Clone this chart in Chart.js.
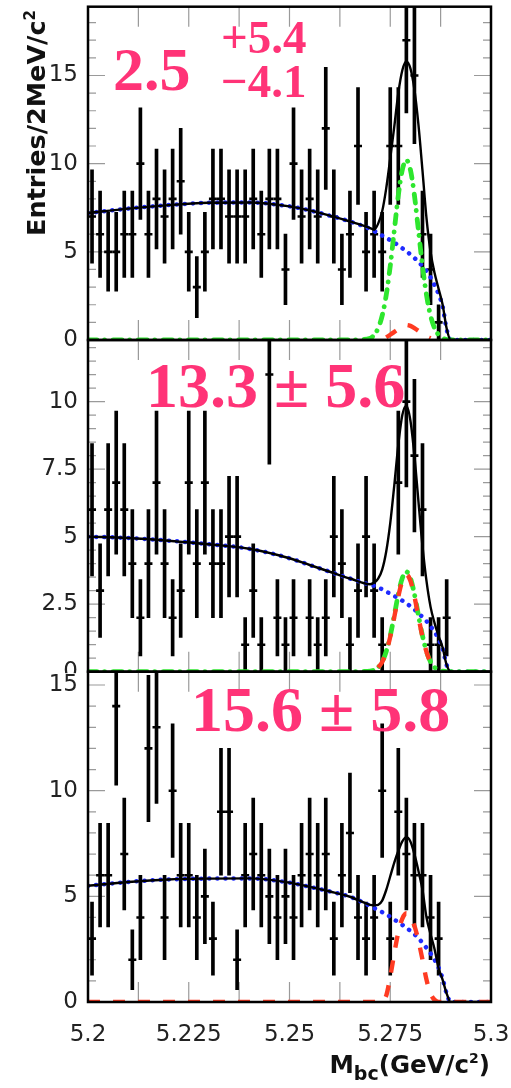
<!DOCTYPE html>
<html>
<head>
<meta charset="utf-8">
<script src="https://cdn.jsdelivr.net/npm/chart.js@4.4.1/dist/chart.umd.min.js"></script>
<style>
  html, body { margin: 0; padding: 0; background: #fff; }
  body { width: 511px; height: 1088px; position: relative; overflow: hidden; }
  canvas { position: absolute; left: 0; top: 0; }
  .yield { position: absolute; z-index: 5; font-family: "Liberation Serif", "Times New Roman", serif;
           font-weight: bold; color: #ff3377; line-height: 1; white-space: pre; }
  .axt { position: absolute; z-index: 5; font-family: "DejaVu Sans", sans-serif; font-weight: bold;
         color: #111; line-height: 1; white-space: nowrap; }
</style>
</head>
<body>
<canvas id="p1" width="511" height="1088"></canvas>
<canvas id="p2" width="511" height="1088"></canvas>
<canvas id="p3" width="511" height="1088"></canvas>

<div class="yield" id="y1" style="left:113px;top:38px;font-size:62px"></div>
<div class="yield" id="y1u" style="left:221px;top:14px;font-size:47px"></div>
<div class="yield" id="y1d" style="left:221px;top:58px;font-size:47px"></div>
<div class="yield" id="y2" style="left:146px;top:354px;font-size:64px"></div>
<div class="yield" id="y3" style="left:191px;top:678px;font-size:64px"></div>

<div class="axt" style="left:24px;top:310px;width:300px;text-align:right;font-size:25.5px;transform:rotate(-90deg);transform-origin:0 0;">Entries/2MeV/c<span style="font-size:15px;position:relative;top:-10px">2</span></div>
<div class="axt" style="right:21px;top:1053px;font-size:24.5px">M<span style="font-size:19px;position:relative;top:7px">bc</span>(GeV/c<span style="font-size:14px;position:relative;top:-10px">2</span>)</div>

<script>
// Beam-constrained mass bins (2 MeV wide), centres in GeV/c^2
const binCenters = [5.201, 5.203, 5.205, 5.207, 5.209, 5.211, 5.213, 5.215, 5.217, 5.219,
                    5.221, 5.223, 5.225, 5.227, 5.229, 5.231, 5.233, 5.235, 5.237, 5.239,
                    5.241, 5.243, 5.245, 5.247, 5.249, 5.251, 5.253, 5.255, 5.257, 5.259,
                    5.261, 5.263, 5.265, 5.267, 5.269, 5.271, 5.273, 5.275, 5.277, 5.279,
                    5.281, 5.283, 5.285, 5.287, 5.289, 5.291, 5.293, 5.295, 5.297, 5.299];

// Entries per bin
const countsTop = [7, 6, 5, 5, 6, 6, 10, 6, 8, 7,   8, 9, 5, 3, 5, 8, 8, 7, 7, 7,
                   8, 6, 8, 8, 4, 10, 7, 8, 7, 12,  7, 4, 6, 11, 5, 6, 5, 11, 11, 17,
                   15, 6, 4, 1, 0,  0, 0, 0, 0, 0];
const countsMid = [6, 3, 6, 7, 6, 4, 2, 4, 7, 4,    2, 3, 7, 4, 7, 4, 4, 5, 5, 1,
                   3, 1, 11, 2, 1, 2, 0, 2, 1, 2,   5, 4, 1, 3, 5, 3, 1, 0, 7, 10,
                   8, 6, 1, 1, 2,  0, 0, 0, 0, 0];
const countsBot = [3, 6, 6, 14, 7, 2, 4, 12, 13, 4, 10, 6, 6, 4, 5, 3, 9, 9, 2, 6,
                   7, 6, 5, 4, 5, 4, 6, 7, 6, 7,    3, 6, 8, 4, 3, 4, 10, 3, 9, 7,
                   6, 6, 4, 3, 0,  0, 0, 0, 0, 0];

// Mass points at which the fit components are sampled
const fitMass = [5.200, 5.210, 5.220, 5.230, 5.240, 5.250, 5.255, 5.260, 5.265, 5.270,
                 5.271, 5.272, 5.273, 5.274, 5.275, 5.276, 5.277, 5.278, 5.279, 5.280,
                 5.281, 5.282, 5.283, 5.284, 5.285, 5.286, 5.287, 5.288, 5.289, 5.290, 5.300];

// Top panel fit components
const bkgTop  = [7.2, 7.45, 7.65, 7.78, 7.8, 7.58, 7.35, 7.05, 6.72, 6.3,
                 6.18, 6.05, 5.92, 5.8, 5.66, 5.52, 5.37, 5.2, 5.03, 4.85,
                 4.65, 4.43, 4.18, 3.9, 3.55, 3.1, 2.6, 1.9, 0.6, 0, 0];
const sigTop  = [0, 0, 0, 0, 0, 0, 0, 0, 0, 0.1,
                 0.29, 0.67, 1.38, 2.54, 4.2, 6.2, 8.2, 9.65, 10.2, 9.65,
                 8.2, 6.2, 4.2, 2.54, 1.38, 0.67, 0.29, 0.1, 0.03, 0, 0];
const peakTop = [null, null, null, null, null, null, null, null, null, null,
                 null, null, null, 0.15, 0.3, 0.46, 0.62, 0.77, 0.85, 0.8,
                 0.68, 0.52, 0.35, 0.2, 0.1, null, null, null, null, null, null];
const totTop  = [7.2, 7.45, 7.65, 7.78, 7.8, 7.58, 7.35, 7.05, 6.72, 6.35,
                 6.25, 6.6, 7.3, 8.6, 10.3, 12.1, 14.0, 15.3, 15.8, 15.4,
                 14.2, 12.2, 9.6, 6.9, 5.0, 3.8, 2.9, 2.0, 0.65, 0, 0];

// Middle panel fit components
const bkgMid  = [5.0, 4.95, 4.85, 4.72, 4.55, 4.2, 3.95, 3.7, 3.45, 3.22,
                 3.18, 3.12, 3.05, 2.97, 2.88, 2.8, 2.72, 2.63, 2.53, 2.42,
                 2.3, 2.17, 2.02, 1.87, 1.68, 1.48, 1.2, 0.85, 0.25, 0, 0];
const sigMid  = [0, 0, 0, 0, 0, 0, 0, 0, 0, 0.02,
                 0.06, 0.16, 0.37, 0.75, 1.33, 2.08, 2.87, 3.47, 3.7, 3.47,
                 2.87, 2.08, 1.33, 0.75, 0.37, 0.16, 0.06, 0.02, 0, 0, 0];
const peakMid = [null, null, null, null, null, null, null, null, null, null,
                 null, 0.15, 0.36, 0.73, 1.29, 2.02, 2.78, 3.37, 3.6, 3.37,
                 2.78, 2.02, 1.29, 0.73, 0.36, 0.15, null, null, null, null, null];
const totMid  = [5.0, 4.95, 4.85, 4.72, 4.55, 4.2, 3.95, 3.7, 3.45, 3.24,
                 3.3, 3.45, 3.78, 4.45, 5.5, 6.9, 8.4, 9.5, 9.85, 9.3,
                 8.0, 6.3, 4.65, 3.35, 2.4, 1.8, 1.32, 0.89, 0.25, 0, 0];

// Bottom panel fit components
const bkgBot  = [5.5, 5.68, 5.8, 5.84, 5.85, 5.65, 5.45, 5.23, 4.98, 4.55,
                 4.45, 4.35, 4.25, 4.15, 4.03, 3.9, 3.78, 3.65, 3.52, 3.36,
                 3.2, 3.02, 2.8, 2.56, 2.3, 2.0, 1.62, 1.1, 0.4, 0, 0];
const peakBot = [0, 0, 0, 0, 0, 0, 0, 0, 0, 0,
                 0, 0, 0.05, 0.3, 1.2, 2.3, 3.3, 3.95, 4.2, 4.05,
                 3.6, 2.9, 2.0, 1.05, 0.4, 0.1, 0, 0, 0, 0, 0];
const totBot  = [5.5, 5.68, 5.8, 5.84, 5.85, 5.65, 5.45, 5.23, 4.98, 4.6,
                 4.58, 4.6, 4.8, 5.3, 5.95, 6.6, 7.15, 7.6, 7.8, 7.6,
                 7.0, 6.2, 5.3, 4.0, 3.2, 2.5, 1.6, 1.05, 0.4, 0, 0];

// Axis ranges and labelled ticks
const yMaxTop = 18.9, yMaxMid = 12.28, yMaxBot = 15.63;
const yTicksTop = [0, 5, 10, 15];
const yTicksMid = [0, 2.5, 5, 7.5, 10];
const yTicksBot = [0, 5, 10, 15];
const xTickValues = [5.2, 5.225, 5.25, 5.275, 5.3];
const xTickLabels = ['5.2', '5.225', '5.25', '5.275', '5.3'];
const xTickMarks = [5.2125, 5.225, 5.2375, 5.25, 5.2625, 5.275, 5.2875];

// Fitted yields
const yieldTop = '2.5', yieldTopUp = '+5.4', yieldTopDown = '\u22124.1';
const yieldMid = '13.3 \u00b1 5.6';
const yieldBot = '15.6 \u00b1 5.8';

document.getElementById('y1').textContent = yieldTop;
document.getElementById('y1u').textContent = yieldTopUp;
document.getElementById('y1d').textContent = yieldTopDown;
document.getElementById('y2').textContent = yieldMid;
document.getElementById('y3').textContent = yieldBot;

// Frame with inward ticks (drawn like a ROOT pad)
const framePlugin = {
  id: 'frame',
  beforeDraw(chart, args, o) {
    if (!o.coverLeft) return;
    const {ctx, chartArea: a} = chart;
    ctx.save();
    ctx.fillStyle = '#fff';
    ctx.fillRect(0, a.top + 1.5, a.left - 1.5, chart.height - a.top);
    ctx.restore();
  },
  beforeDatasetsDraw(chart, args, o) {
    const {ctx, chartArea: a} = chart;
    const xs = chart.scales.x, ys = chart.scales.y;
    ctx.save();
    ctx.beginPath();
    ctx.rect(a.left, a.top, a.right - a.left, a.bottom - a.top);
    ctx.clip();
    ctx.strokeStyle = '#9a9a9a';
    ctx.lineWidth = 1.2;
    ctx.beginPath();
    for (const v of xTickMarks) {
      const p = xs.getPixelForValue(v);
      ctx.moveTo(p, a.bottom); ctx.lineTo(p, a.bottom - 20);
      ctx.moveTo(p, a.top); ctx.lineTo(p, a.top + 20);
    }
    for (let k = 0; k * o.minor <= ys.max + 1e-9; k++) {
      const v = k * o.minor;
      const r = v / o.major;
      const len = Math.abs(r - Math.round(r)) < 1e-6 ? 17 : 8;
      const p = ys.getPixelForValue(v);
      ctx.moveTo(a.left, p); ctx.lineTo(a.left + len, p);
      ctx.moveTo(a.right, p); ctx.lineTo(a.right - len, p);
    }
    ctx.stroke();
    ctx.restore();
  },
  afterDatasetsDraw(chart) {
    const {ctx, chartArea: a} = chart;
    ctx.save();
    ctx.strokeStyle = '#000';
    ctx.lineWidth = 2.5;
    ctx.strokeRect(a.left, a.top, a.right - a.left, a.bottom - a.top);
    ctx.restore();
  }
};

const curve = (ys) => fitMass.map((m, i) => ({x: m, y: ys[i]}));

function buildPanel(p) {
  const errBars = [], markers = [];
  binCenters.forEach((m, i) => {
    const c = p.counts[i];
    if (c > 0) {
      const e = Math.sqrt(c);
      errBars.push({x: m, y: [c - e, c + e]});
      markers.push({x: m, y: c});
    }
  });
  const datasets = [
    {type: 'bar', data: errBars, backgroundColor: '#000', borderWidth: 0, barThickness: 3, order: 6},
    {type: 'line', data: markers, showLine: false, pointStyle: 'line', pointRadius: 4,
     pointBorderWidth: 2.6, pointBorderColor: '#000', pointBackgroundColor: '#000', order: 5},
    {type: 'line', data: curve(p.bkg), borderColor: '#1f2bff', borderWidth: 4.5, borderDash: [0.1, 8],
     borderCapStyle: 'round', pointRadius: 0, cubicInterpolationMode: 'monotone', order: 4}
  ];
  if (p.sig) datasets.push({type: 'line', data: curve(p.sig), borderColor: '#2ee62e', borderWidth: 4.8,
     borderDash: [9, 7.5, 0.1, 8.5], borderCapStyle: 'round', pointRadius: 0,
     cubicInterpolationMode: 'monotone', order: 3});
  datasets.push({type: 'line', data: curve(p.peak), borderColor: '#ff3b22', borderWidth: 4.4,
     borderDash: [12, 13], pointRadius: 0, spanGaps: false, cubicInterpolationMode: 'monotone', order: 2});
  datasets.push({type: 'line', data: curve(p.tot), borderColor: '#000', borderWidth: 2.4,
     pointRadius: 0, cubicInterpolationMode: 'monotone', order: 1});

  new Chart(document.getElementById(p.id), {
    type: 'line',
    data: {datasets},
    options: {
      responsive: false,
      animation: false,
      events: [],
      layout: {padding: {top: p.top, bottom: 1088 - p.bottom - (p.showX ? 86 : 0), left: 0, right: 20}},
      plugins: {legend: {display: false}, tooltip: {enabled: false},
                frame: {minor: p.minor, major: p.major, coverLeft: p.coverLeft}},
      scales: {
        x: {
          type: 'linear', min: 5.2, max: 5.3, offset: false, display: p.showX,
          grid: {display: false, drawTicks: false}, border: {display: false},
          afterBuildTicks: (s) => { s.ticks = xTickValues.map(v => ({value: v})); },
          afterFit: (s) => { s.height = p.showX ? 86 : 0; s.paddingLeft = 0; s.paddingRight = 0; },
          ticks: {autoSkip: false, maxRotation: 0, padding: 19, color: '#222',
                  font: {family: 'DejaVu Sans', size: 23},
                  callback: (v, i) => xTickLabels[i]}
        },
        y: {
          type: 'linear', min: 0, max: p.yMax,
          grid: {display: false, drawTicks: false}, border: {display: false},
          afterBuildTicks: (s) => { s.ticks = p.yTicks.map(v => ({value: v})); },
          afterFit: (s) => { s.width = 88; s.paddingTop = 0; s.paddingBottom = 0; },
          ticks: {padding: 10, color: '#222', font: {family: 'DejaVu Sans', size: 23},
                  callback: (v) => String(v)}
        }
      }
    },
    plugins: [framePlugin]
  });
}

buildPanel({id: 'p1', top: 6.7, bottom: 340, yMax: yMaxTop, yTicks: yTicksTop, minor: 1, major: 5,
            counts: countsTop, bkg: bkgTop, sig: sigTop, peak: peakTop, tot: totTop, showX: false});
buildPanel({id: 'p2', top: 340, bottom: 671.7, yMax: yMaxMid, yTicks: yTicksMid, minor: 0.5, major: 2.5,
            counts: countsMid, bkg: bkgMid, sig: sigMid, peak: peakMid, tot: totMid, showX: false});
buildPanel({id: 'p3', top: 671.7, bottom: 1002, yMax: yMaxBot, yTicks: yTicksBot, minor: 1, major: 5,
            counts: countsBot, bkg: bkgBot, sig: null, peak: peakBot, tot: totBot, showX: true,
            coverLeft: true});
</script>
</body>
</html>
